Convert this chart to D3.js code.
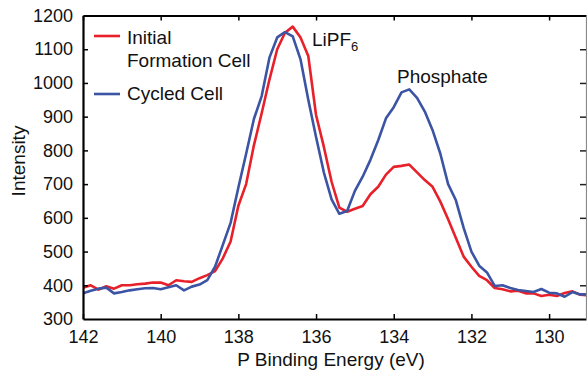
<!DOCTYPE html>
<html><head><meta charset="utf-8">
<script src="https://cdn.jsdelivr.net/npm/d3@7"></script>
<style>body{margin:0;background:#fff}svg{display:block}text{font-family:"Liberation Sans",Arial,sans-serif;fill:#111}</style>
</head><body><svg id="c" width="587" height="374"></svg>
<script>
const energy = d3.range(66).map(i => +(142 - i * 0.2).toFixed(1));
const initialCell = [393,400,387,397,390,400,400,403,405,408,408,400,415,412,410,421,430,442,480,530,636,700,815,910,1010,1100,1149,1167,1135,1080,905,811,707,630,618,627,635,670,692,728,751,754,758,735,712,692,648,596,540,485,455,428,415,392,388,382,384,376,376,368,372,368,377,382,372,370];
const cycledCell = [376,384,390,393,376,380,385,388,391,392,388,394,400,385,396,402,415,455,520,585,690,790,893,961,1075,1135,1151,1138,1070,950,840,735,655,612,620,680,722,772,830,895,928,972,981,956,915,860,790,700,652,570,500,458,438,398,400,392,386,383,380,389,378,376,366,380,373,373];
const xTicks = [142,140,138,136,134,132,130];
const yTicks = [300,400,500,600,700,800,900,1000,1100,1200];
const seriesNames = ["Initial", "Formation Cell", "Cycled Cell"];
const colors = {initial: "#e8202a", cycled: "#3b54a3"};

const svg = d3.select("#c");
const L = 83, R = 586, T = 15.5, B = 319;
const x = d3.scaleLinear().domain([142, 129.05]).range([L, R]);
const y = d3.scaleLinear().domain([300, 1200]).range([B, T]);

svg.append("clipPath").attr("id","clip").append("rect").attr("x",L).attr("y",T-5).attr("width",R-L).attr("height",B-T+5);

const line = d3.line().x((d,i) => x(energy[i])).y(d => y(d));
const g = svg.append("g").attr("clip-path","url(#clip)");
g.append("path").datum(initialCell).attr("d", line).attr("fill","none").attr("stroke",colors.initial).attr("stroke-width",2.6).attr("stroke-linejoin","round");
g.append("path").datum(cycledCell).attr("d", line).attr("fill","none").attr("stroke",colors.cycled).attr("stroke-width",2.6).attr("stroke-linejoin","round");

// axes
const fs = "18px";
const fmt = d3.format("d");
const xb = svg.append("g").attr("transform",`translate(0,${B})`).call(d3.axisBottom(x).tickValues(xTicks).tickFormat(fmt).tickSizeInner(-5).tickSizeOuter(0).tickPadding(10));
const xt = svg.append("g").attr("transform",`translate(0,${T})`).call(d3.axisTop(x).tickValues(xTicks).tickSizeInner(-5).tickSizeOuter(0).tickFormat(""));
const yl = svg.append("g").attr("transform",`translate(${L},0)`).call(d3.axisLeft(y).tickValues(yTicks).tickFormat(fmt).tickSizeInner(-5).tickSizeOuter(0).tickPadding(10));
const yr = svg.append("g").attr("transform",`translate(${R},0)`).call(d3.axisRight(y).tickValues(yTicks).tickSizeInner(-6).tickSizeOuter(0).tickFormat(""));
[xb,xt,yl].forEach(a => {a.select(".domain").attr("stroke","#000").attr("stroke-width",2.2); a.selectAll(".tick line").attr("stroke","#000").attr("stroke-width",1.5);});
yr.select(".domain").attr("stroke","#888").attr("stroke-width",1.2);
yr.selectAll(".tick line").attr("stroke","#222").attr("stroke-width",1.5);
svg.selectAll(".tick text").attr("font-size",fs).attr("font-family","Liberation Sans, Arial, sans-serif").attr("fill","#111");
xb.selectAll(".tick text").attr("dy","0.71em").attr("y",11);
yl.selectAll(".tick").filter(d => d===300 || d===1200).select("line").remove();
yr.selectAll(".tick").filter(d => d===300 || d===1200).select("line").remove();

// axis titles
svg.append("text").attr("x",331).attr("y",366).attr("text-anchor","middle").attr("font-size","19px").text("P Binding Energy (eV)");
svg.append("text").attr("transform","translate(25,161) rotate(-90)").attr("text-anchor","middle").attr("font-size","19px").text("Intensity");

// legend
svg.append("line").attr("x1",94).attr("x2",120).attr("y1",36).attr("y2",36).attr("stroke",colors.initial).attr("stroke-width",2.6);
svg.append("line").attr("x1",94).attr("x2",120).attr("y1",94).attr("y2",94).attr("stroke",colors.cycled).attr("stroke-width",2.6);
svg.append("text").attr("x",127).attr("y",44).attr("font-size","19px").text(seriesNames[0]);
svg.append("text").attr("x",127).attr("y",67).attr("font-size","19px").text(seriesNames[1]);
svg.append("text").attr("x",127).attr("y",100).attr("font-size","19px").text(seriesNames[2]);

// annotations
const lp = svg.append("text").attr("x",312).attr("y",46).attr("font-size","19px");
lp.append("tspan").text("LiPF");
lp.append("tspan").attr("font-size","13px").attr("dy",5).text("6");
svg.append("text").attr("x",397).attr("y",83).attr("font-size","19px").text("Phosphate");
</script></body></html>
